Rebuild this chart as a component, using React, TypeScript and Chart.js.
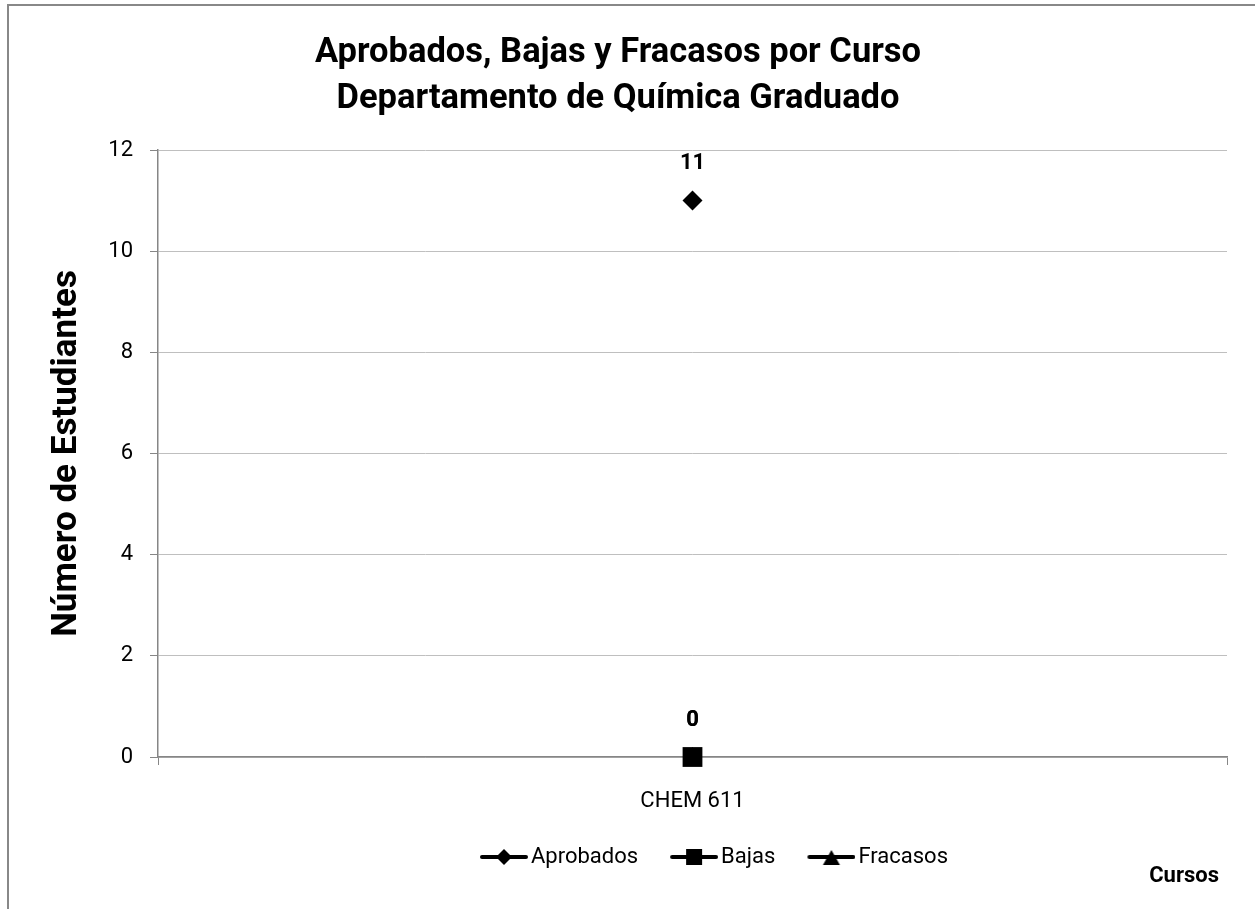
import React, { useEffect, useRef } from "react";
import { Chart, registerables } from "chart.js";

Chart.register(...registerables);

const categories = ["CHEM 611"];
const aprobados = [11];
const bajas = [0];
const fracasos = [0];
const seriesNames = ["Aprobados", "Bajas", "Fracasos"];
const seriesMarkers = ["rectRot", "rect", "triangle"];
const yMin = 0;
const yMax = 12;
const yStep = 2;
const titleLines = ["Aprobados, Bajas y Fracasos por Curso", "Departamento de Química Graduado"];
const yTitle = "Número de Estudiantes";
const xTitle = "Cursos";

const FONT = "Roboto, 'Open Sans', sans-serif";
const AXIS = "#868686";
const GRID = "#bfbfbf";
const LEGEND_ICON_START = 471; // canvas x where first legend icon begins
const PSW = 35;
const ICON_W = 51;
const ICON_PAD = 3;

function makeLegendIcon(style: string): HTMLCanvasElement {
  const c = document.createElement("canvas");
  c.width = ICON_W;
  c.height = 20;
  const ctx = c.getContext("2d")!;
  ctx.translate(ICON_PAD, 0);
  ctx.strokeStyle = "#000";
  ctx.fillStyle = "#000";
  ctx.lineWidth = 4;
  ctx.lineCap = "round";
  ctx.beginPath();
  ctx.moveTo(2, 10);
  ctx.lineTo(46, 10);
  ctx.stroke();
  ctx.beginPath();
  if (style === "rectRot") {
    ctx.moveTo(16, 10);
    ctx.lineTo(24, 2);
    ctx.lineTo(32, 10);
    ctx.lineTo(24, 18);
    ctx.closePath();
  } else if (style === "rect") {
    ctx.rect(16, 2, 16, 16);
  } else {
    ctx.moveTo(24, 3);
    ctx.lineTo(32.5, 18);
    ctx.lineTo(15.5, 18);
    ctx.closePath();
  }
  ctx.fill();
  return c;
}

const dataLabelPlugin = {
  id: "dataLabels",
  afterDatasetsDraw(chart: any) {
    const ctx = chart.ctx;
    ctx.save();
    ctx.font = `bold 22px ${FONT}`;
    ctx.fillStyle = "#000";
    ctx.textAlign = "center";
    ctx.textBaseline = "middle";
    chart.data.datasets.forEach((ds: any, i: number) => {
      const meta = chart.getDatasetMeta(i);
      meta.data.forEach((el: any, j: number) => {
        ctx.fillText(String(ds.data[j]), el.x, el.y - 37);
      });
    });
    ctx.restore();
  },
};

const xTitlePlugin = {
  id: "xTitleBelowLegend",
  afterLayout(chart: any) {
    const lg = chart.legend;
    if (lg && lg.lineWidths) {
      const pad = lg.options.labels.padding;
      const cur = (lg.left + pad + lg.right - lg.lineWidths[0]) / 2;
      const target = LEGEND_ICON_START - (PSW / 2 - ICON_W / 2 + ICON_PAD);
      const shift = target - cur;
      lg.left += shift;
      lg.right += shift;
    }
  },
  afterDraw(chart: any) {
    const ctx = chart.ctx;
    ctx.save();
    ctx.font = `bold 22px ${FONT}`;
    ctx.fillStyle = "#000";
    ctx.textAlign = "right";
    ctx.textBaseline = "middle";
    ctx.fillText(xTitle, chart.chartArea.right - 8, chart.legend.bottom - 2);
    ctx.restore();
  },
};

export default function App() {
  const ref = useRef<HTMLCanvasElement | null>(null);

  useEffect(() => {
    if (!ref.current) return;
    const icons = seriesMarkers.map((m) => makeLegendIcon(m));
    const values = [aprobados, bajas, fracasos];
    const radii = [10, 14, 10];
    const chart = new Chart(ref.current, {
      type: "line",
      data: {
        labels: categories,
        datasets: seriesNames.map((name, i) => ({
          label: name,
          data: values[i],
          borderColor: "#000",
          backgroundColor: "#000",
          borderWidth: 4,
          pointStyle: seriesMarkers[i] as any,
          pointRadius: radii[i],
          pointBackgroundColor: "#000",
          pointBorderColor: "#000",
          pointBorderWidth: 0,
          clip: false as any,
        })),
      },
      options: {
        responsive: false,
        animation: false,
        layout: { padding: { left: 0, right: 45, top: 0, bottom: 31 } },
        plugins: {
          tooltip: { enabled: false },
          title: {
            display: true,
            text: titleLines,
            color: "#000",
            font: { family: FONT, size: 34.5, weight: "bold", lineHeight: "46px" } as any,
            padding: { top: 24, bottom: 28 },
          },
          legend: {
            display: true,
            position: "bottom",
            fullSize: false,
            labels: {
              usePointStyle: true,
              pointStyleWidth: PSW,
              padding: 37,
              color: "#000",
              font: { family: FONT, size: 22 },
              generateLabels: () =>
                seriesNames.map((name, i) => ({
                  text: name,
                  fillStyle: "#000",
                  strokeStyle: "#000",
                  lineWidth: 0,
                  pointStyle: icons[i] as any,
                  hidden: false,
                  datasetIndex: i,
                  fontColor: "#000",
                })),
            },
          },
        },
        scales: {
          x: {
            type: "category",
            offset: true,
            grid: {
              display: true,
              drawOnChartArea: false,
              drawTicks: true,
              tickLength: 8,
              tickColor: AXIS,
              offset: true,
            },
            border: { display: true, color: AXIS, width: 1.5 },
            ticks: { color: "#000", font: { family: FONT, size: 22 }, padding: 23 },
            afterFit: (scale: any) => {
              scale.height = 52;
            },
          },
          y: {
            min: yMin,
            max: yMax,
            ticks: { stepSize: yStep, color: "#000", font: { family: FONT, size: 22 }, padding: 17 },
            grid: { color: GRID, lineWidth: 1, tickColor: AXIS, tickLength: 8 },
            border: { display: true, color: AXIS, width: 1.5 },
            title: {
              display: true,
              text: yTitle,
              color: "#000",
              font: { family: FONT, size: 35, weight: "bold" },
              padding: { top: 37, bottom: 0 },
            },
            afterFit: (scale: any) => {
              scale.width = 149;
            },
          },
        },
      },
      plugins: [dataLabelPlugin, xTitlePlugin],
    });
    return () => chart.destroy();
  }, []);

  return (
    <div style={{ position: "absolute", left: 0, top: 0, width: 1255, height: 909, overflow: "hidden", background: "#fff" }}>
      <div
        style={{
          position: "absolute",
          left: 7,
          top: 4,
          width: 1300,
          height: 1000,
          border: "2px solid #888",
        }}
      />
      <canvas ref={ref} width={1263} height={903} style={{ position: "absolute", left: 9, top: 6 }} />
    </div>
  );
}
